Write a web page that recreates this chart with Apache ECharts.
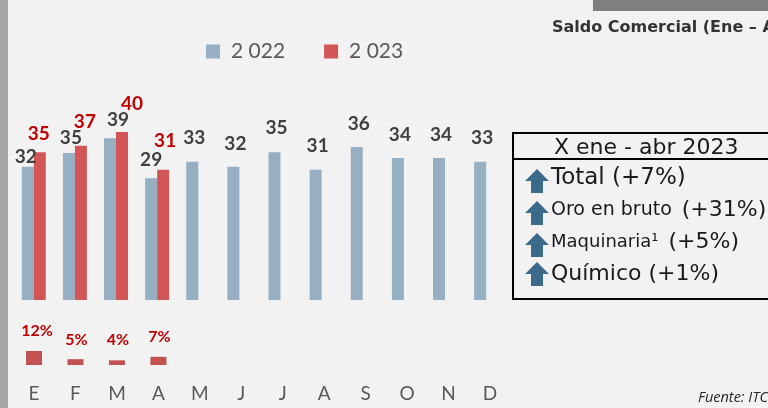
<!DOCTYPE html>
<html>
<head>
<meta charset="utf-8">
<style>html,body{margin:0;padding:0;background:#f2f2f2}#chart{width:768px;height:408px}</style>
<script src="https://cdn.jsdelivr.net/npm/echarts@6/dist/echarts.min.js"></script>
</head>
<body>
<div id="chart"></div>
<script>
const months = ['E','F','M','A','M','J','J','A','S','O','N','D'];
// the labels show them rounded
const values2022 = [31.7,35,38.5,29,32.9,31.7,35.2,31,36.4,33.8,33.8,32.9];
const values2023 = [35.2,36.7,40,31,null,null,null,null,null,null,null,null];
const variation = [12,5,4,7,null,null,null,null,null,null,null,null];
const panelRows = ['Total (+7%)','Oro en bruto (+31%)','Maquinaria¹ (+5%)','Químico (+1%)'];

// label nudges, the original labels were moved by hand
const nudge2022 = [[-2,5],[2,-1],[8,-3.5],[0,-4],[2,-9],[2,-8],[2,-10],[2,-9],[2,-9],[2,-9],[2,-9],[2,-9]];
const nudge2023 = [[-1,-4],[4,-9],[10,-14],[2,-14]];
const nudgeVar = [[3,-7],[1,-6],[1,-7],[1,-7]];
const arrowTops = [169,201,233,262];

const chart = echarts.init(document.getElementById('chart'));
const font = 'Lato';
const boxFont = '"DejaVu Sans"';

function arrow(top){
    return {
        type:'polygon',
        shape:{points:[[537,top],[549,top+12],[543,top+12],[543,top+24],[531,top+24],[531,top+12],[525,top+12]]},
        style:{fill:'#3c6a8a'}
    };
}

function row(x,y,parts,size){
    return {
        type:'text', x:x, y:y,
        style:{
            text:parts,
            fill:'#1a1a1a',
            font:size+'px '+boxFont,
            verticalAlign:'middle',
            rich:{
                s:{font:'18px '+boxFont,fill:'#1a1a1a'},
                o:{font:'19px '+boxFont,fill:'#1a1a1a'},
                b:{font:'22px '+boxFont,fill:'#1a1a1a',padding:[0,0,0,3]}
            }
        }
    };
}

let option = {
    backgroundColor:'#f2f2f2',
    animation:false,
    legend:{
        data:['2 022','2 023'],
        left:201, top:36,
        itemWidth:14, itemHeight:14, itemGap:39,
        icon:'rect',
        textStyle:{fontFamily:font,fontSize:21,color:'#595959',padding:[0,0,0,6]}
    },
    grid:[
        {left:13.2,width:493.5,top:90,height:210},
        {left:13.3,width:497.5,top:330,height:35}
    ],
    xAxis:[
        {type:'category',gridIndex:0,data:months,axisLine:{show:false},axisTick:{show:false},axisLabel:{show:false}},
        {type:'category',gridIndex:1,data:months,axisLine:{show:false},axisTick:{show:false},
            axisLabel:{fontFamily:font,fontSize:19,color:'#595959',margin:19}}
    ],
    yAxis:[
        {type:'value',gridIndex:0,min:0,max:50,show:false},
        {type:'value',gridIndex:1,min:0,max:30,show:false}
    ],
    series:[
        {
            name:'2 022',type:'bar',barWidth:12,barGap:0,
            itemStyle:{color:'#97afc3'},
            data:values2022.map((v,i)=>({
                value:v,
                label:{show:true,position:'top',distance:5,offset:nudge2022[i],
                    fontFamily:font,fontWeight:'bold',fontSize:19,color:'#404040',
                    formatter:p=>Math.round(p.value)}
            }))
        },
        {
            name:'2 023',type:'bar',barWidth:12,
            itemStyle:{color:'#d25656'},
            data:values2023.map((v,i)=>v===null?null:({
                value:v,
                label:{show:true,position:'top',distance:5,offset:nudge2023[i],
                    fontFamily:font,fontWeight:'bold',fontSize:19,color:'#c00000',
                    formatter:p=>Math.round(p.value)}
            }))
        },
        {
            name:'var',type:'bar',xAxisIndex:1,yAxisIndex:1,barWidth:16,
            itemStyle:{color:'#c25252'},
            data:variation.map((v,i)=>v===null?null:({
                value:v,
                label:{show:true,position:'top',distance:5,offset:nudgeVar[i],
                    fontFamily:font,fontWeight:'bold',fontSize:16,color:'#c00000',
                    formatter:p=>p.value+'%'}
            }))
        }
    ],
    graphic:[
        {type:'rect',shape:{x:0,y:0,width:8,height:408},style:{fill:'#a6a6a6'}},
        {type:'rect',shape:{x:593,y:0,width:175,height:11},style:{fill:'#7f7f7f'}},
        {type:'text',x:552,y:28,style:{text:'Saldo Comercial (Ene – Abr)',fill:'#333333',
            font:'bold 16px '+boxFont,verticalAlign:'middle'}},
        {type:'rect',shape:{x:513,y:133,width:300,height:166},style:{fill:'none',stroke:'#000',lineWidth:2}},
        {type:'line',shape:{x1:513,y1:159,x2:768,y2:159},style:{stroke:'#000',lineWidth:2}},
        {type:'text',x:554,y:148,style:{text:'X ene - abr 2023',fill:'#1a1a1a',font:'22px '+boxFont,verticalAlign:'middle'}},
        arrow(arrowTops[0]),arrow(arrowTops[1]),arrow(arrowTops[2]),arrow(arrowTops[3]),
        row(551,178,panelRows[0],23),
        row(551,210,'{o|Oro en bruto} {b|(+31%)}',22),
        row(551,242,'{s|Maquinaria¹} {b|(+5%)}',22),
        row(551,274,panelRows[3],22),
        {type:'text',x:698,y:398,style:{text:'Fuente: ITC',fill:'#262626',font:'italic 14.5px "Open Sans"',verticalAlign:'middle'}}
    ]
};
chart.setOption(option);
</script>
</body>
</html>
